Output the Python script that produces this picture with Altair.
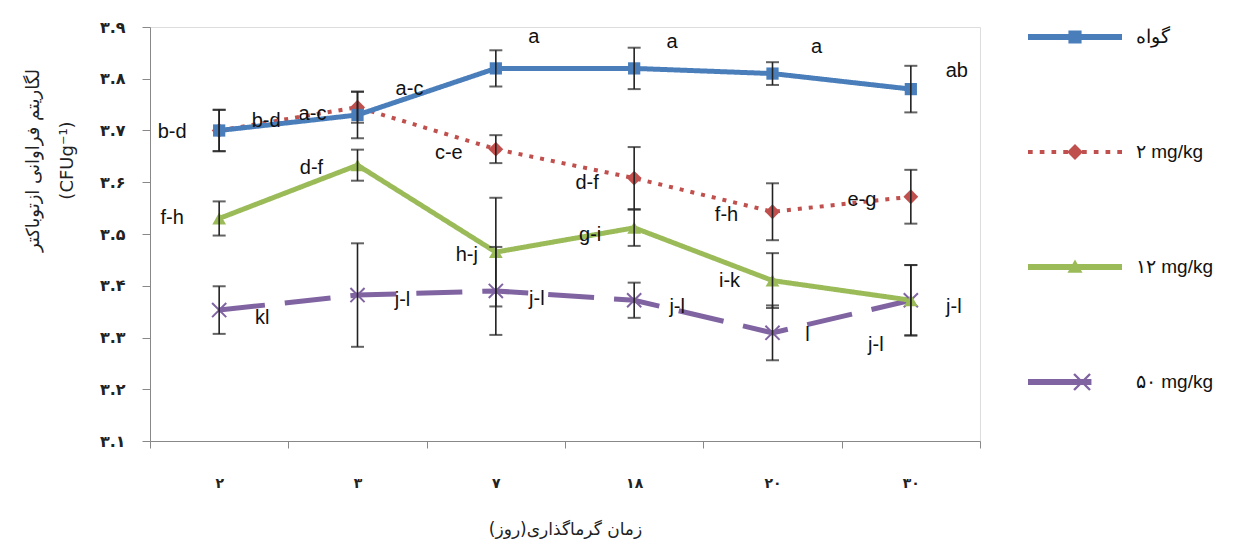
import altair as alt
import pandas as pd

# ---------------- data ----------------
days = ["۲", "۳", "۷", "۱۸", "۲۰", "۳۰"]
series = ["گواه", "۲ mg/kg", "۱۲ mg/kg", "۵۰ mg/kg"]

control = [3.70, 3.73, 3.82, 3.82, 3.81, 3.78]
control_err = [0.04, 0.045, 0.035, 0.04, 0.022, 0.045]
control_letters = ["b-d", "a-c", "a", "a", "a", "ab"]

mg2 = [3.70, 3.745, 3.664, 3.608, 3.543, 3.572]
mg2_err = [0.04, 0.03, 0.027, 0.06, 0.055, 0.052]
mg2_letters = ["b-d", "a-c", "c-e", "d-f", "f-h", "e-g"]

mg12 = [3.53, 3.633, 3.465, 3.512, 3.41, 3.372]
mg12_err = [0.033, 0.03, 0.105, 0.035, 0.053, 0.068]
mg12_letters = ["f-h", "d-f", "h-j", "g-i", "i-k", "j-l"]

mg50 = [3.353, 3.382, 3.39, 3.372, 3.309, 3.372]
mg50_err = [0.046, 0.10, 0.085, 0.034, 0.053, 0.068]
mg50_letters = ["kl", "j-l", "j-l", "j-l", "l", "j-l"]

y_ticks = [3.1, 3.2, 3.3, 3.4, 3.5, 3.6, 3.7, 3.8, 3.9]
y_tick_labels = ["۳.۱", "۳.۲", "۳.۳", "۳.۴", "۳.۵", "۳.۶", "۳.۷", "۳.۸", "۳.۹"]

y_title = ["لگاریتم فراوانی ازتوباکتر", "(CFUg⁻¹)"]
x_title = "زمان گرماگذاری(روز)"

# ---------------- styles ----------------
colors = ["#4A7EBB", "#C0504D", "#9BBB59", "#8064A2"]
widths = [5, 4, 5, 5]
dashes = [[1, 0], [4, 7], [1, 0], [46, 20]]
shapes = ["square", "diamond", "triangle-up", "M-1,-1L1,1M-1,1L1,-1"]
msizes = [150, 220, 190, 200]
# label offsets (pixels) per series, per point
label_dx = [[47, 52, 38, 38, 44, 46],
            [-47, -45, -47, -47, -46, -49],
            [-47, -46, -29, -44, -43, 43],
            [43, 45, 41, 43, 35, -35]]
label_dy = [[-10, -26, -31, -26, -27, -18],
            [1, 7, 4, 5, 3, 3],
            [0, 3, 3, 7, 0, 7],
            [8, 5, 8, 7, 2, 45]]

# legend symbols (line + marker), unit coordinates
legend_paths = [
    "M-1,-0.064H1V0.064H-1Z M-0.14,-0.14H0.14V0.14H-0.14Z",
    ("M-1,-0.045H-0.9V0.045H-1Z M-0.75,-0.045H-0.65V0.045H-0.75Z M-0.5,-0.045H-0.4V0.045H-0.5Z "
     "M-0.25,-0.045H-0.15V0.045H-0.25Z M0.15,-0.045H0.25V0.045H0.15Z M0.4,-0.045H0.5V0.045H0.4Z "
     "M0.65,-0.045H0.75V0.045H0.65Z M0.9,-0.045H1V0.045H0.9Z M0,-0.17L0.17,0L0,0.17L-0.17,0Z"),
    "M-1,-0.064H1V0.064H-1Z M0,-0.16L0.16,0.12L-0.16,0.12Z",
    ("M-1,-0.064H0.35V0.064H-1Z "
     "M-0.002,-0.188L0.338,0.152L0.302,0.188L-0.038,-0.152Z "
     "M-0.038,0.152L0.302,-0.188L0.338,-0.152L-0.002,0.188Z"),
]

values = [control, mg2, mg12, mg50]
errs = [control_err, mg2_err, mg12_err, mg50_err]
letters = [control_letters, mg2_letters, mg12_letters, mg50_letters]

rows = []
for si, s in enumerate(series):
    for di, d in enumerate(days):
        v = values[si][di]
        e = errs[si][di]
        rows.append(dict(series=s, day=d, value=v, lo=v - e, hi=v + e,
                         letter=letters[si][di],
                         ldx=label_dx[si][di], ldy=label_dy[si][di]))
df = pd.DataFrame(rows)

x_enc = alt.X("day:N", sort=days,
              scale=alt.Scale(type="band", paddingInner=0, paddingOuter=0),
              axis=alt.Axis(title=x_title, labelAngle=0, tickBand="extent",
                            labelFont="DejaVu Sans", labelFontSize=14, labelFontWeight="bold",
                            labelColor="#222", labelPadding=28, tickSize=7,
                            domainColor="#888", tickColor="#888",
                            titleFont="DejaVu Sans", titleFontSize=17, titleFontWeight="normal",
                            titleColor="#222", titleY=88, titleBaseline="middle"))
y_scale = alt.Scale(domain=[3.1, 3.9], nice=False, zero=False)
label_expr = "[" + ",".join("'%s'" % t for t in y_tick_labels) + "][round(datum.value*10)-31]"
y_axis = alt.Axis(values=y_ticks, labelExpr=label_expr, grid=False, tickSize=8,
                  labelFont="DejaVu Sans", labelFontSize=16, labelFontWeight="bold",
                  labelColor="#222", labelPadding=17,
                  domainColor="#888", tickColor="#888",
                  title=y_title, titleFont="DejaVu Sans", titleFontSize=18,
                  titleFontWeight="normal", titleColor="#222", titleAngle=-90,
                  titleX=-108, titleY=133, titleAlign="center", titleLineHeight=34)

base = alt.Chart(df)
layers = []

# lines (draw purple, green, red, blue order)
for si in [3, 2, 1, 0]:
    s = series[si]
    layers.append(
        base.transform_filter(alt.datum.series == s)
        .mark_line(color=colors[si], strokeWidth=widths[si], strokeDash=dashes[si])
        .encode(x=x_enc, y=alt.Y("value:Q", scale=y_scale, axis=y_axis))
    )

# markers
for si in [3, 2, 1, 0]:
    s = series[si]
    filled = si != 3
    layers.append(
        base.transform_filter(alt.datum.series == s)
        .mark_point(shape=shapes[si], size=msizes[si], filled=filled,
                    color=colors[si], opacity=1, strokeWidth=2)
        .encode(x=alt.X("day:N", sort=days), y=alt.Y("value:Q"))
    )

# error bars
layers.append(
    base.mark_rule(color="#222", strokeWidth=1.6)
    .encode(x=alt.X("day:N", sort=days), y=alt.Y("lo:Q"), y2="hi:Q")
)
layers.append(
    base.mark_tick(color="#222", thickness=2, size=13, orient="horizontal")
    .encode(x=alt.X("day:N", sort=days), y=alt.Y("lo:Q"))
)
layers.append(
    base.mark_tick(color="#222", thickness=2, size=13, orient="horizontal")
    .encode(x=alt.X("day:N", sort=days), y=alt.Y("hi:Q"))
)

# letters
layers.append(
    base.mark_text(font="Liberation Sans", fontSize=20, color="#111",
                   align="center", baseline="middle",
                   dx=alt.expr("datum.ldx"), dy=alt.expr("datum.ldy"))
    .encode(x=alt.X("day:N", sort=days), y=alt.Y("value:Q"), text="letter:N")
)

# legend-only layer
leg = alt.Legend(orient="none", legendX=878, legendY=-37, title=None,
                 symbolSize=8836, symbolStrokeWidth=0, symbolOpacity=1,
                 labelFont="Liberation Sans", labelFontSize=19, labelColor="#111",
                 rowPadding=58, labelOffset=14, padding=0)
layers.append(
    base.transform_filter("false")
    .mark_point(filled=True, opacity=1)
    .encode(x=alt.X("day:N", sort=days), y=alt.Y("value:Q"),
            color=alt.Color("series:N", scale=alt.Scale(domain=series, range=colors), legend=leg),
            shape=alt.Shape("series:N", scale=alt.Scale(domain=series, range=legend_paths), legend=leg))
)

chart = alt.layer(*layers).properties(
    width=830, height=414,
    padding={"left": 142, "top": 19, "right": 262, "bottom": 104},
    autosize=alt.AutoSizeParams(type="none"),
).configure_view(stroke=None).configure(background="white")

chart.save("out.html", embed_options={"renderer": "svg", "actions": False})
